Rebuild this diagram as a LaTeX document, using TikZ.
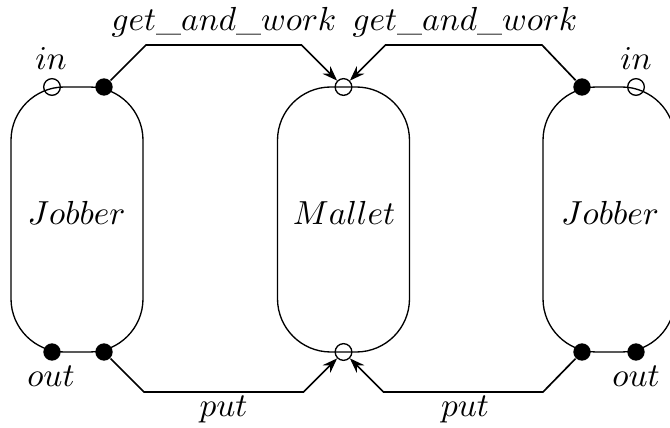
\documentclass[tikz,border=0pt]{standalone}
\usetikzlibrary{arrows.meta}
\begin{document}
\begin{tikzpicture}[x=0.3pt,y=-0.3pt,
  procbox/.style={draw, line width=0.4pt, rounded corners=16pt, minimum width=39.6pt, minimum height=79.5pt, inner sep=0pt},
  fulldot/.style={circle, fill=black, inner sep=0pt, minimum size=5.2pt},
  opendot/.style={circle, draw, line width=0.4pt, inner sep=0pt, minimum size=5pt},
  conn/.style={line width=0.5pt},
  arr/.style={conn, -{Stealth[length=4.5pt,width=3.2pt]}},
  lbl/.style={anchor=base, inner sep=0pt}]
\useasboundingbox (0,0) rectangle (670,428);
% boxes
\node[procbox] (J1) at (77,219.5) {};
\node[procbox] (M) at (343.5,219.5) {};
\node[procbox] (J2) at (609,219.5) {};
\node[lbl] (J1t) at (76.5,225) {$Jobber$};
\node[lbl] (Mt) at (344,225) {$Mallet$};
\node[lbl] (J2t) at (610,225) {$Jobber$};
% ports
\node[opendot] (J1in) at (52,87) {};
\node[fulldot] (J1g) at (104,87) {};
\node[fulldot] (J1o) at (52,352) {};
\node[fulldot] (J1p) at (104,352) {};
\node[opendot] (Mg) at (343.5,87) {};
\node[opendot] (Mp) at (343.5,352) {};
\node[fulldot] (J2g) at (582,87) {};
\node[opendot] (J2in) at (636,87) {};
\node[fulldot] (J2p) at (582,352) {};
\node[fulldot] (J2o) at (636,352) {};
% waypoints
\coordinate (a1) at (146,45);
\coordinate (a2) at (301.5,45);
\coordinate (b1) at (542,45);
\coordinate (b2) at (385.5,45);
\coordinate (c1) at (144,392);
\coordinate (c2) at (303.5,392);
\coordinate (d1) at (543,392);
\coordinate (d2) at (383.5,392);
% connectors
\draw[arr] (J1g) -- (a1) -- (a2) -- (Mg);
\draw[arr] (J2g) -- (b1) -- (b2) -- (Mg);
\draw[arr] (J1p) -- (c1) -- (c2) -- (Mp);
\draw[arr] (J2p) -- (d1) -- (d2) -- (Mp);
% labels
\node[lbl] (L1) at (224,31) {$get\_and\_work$};
\node[lbl] (L2) at (465,31) {$get\_and\_work$};
\node[lbl] (in1) at (51,70) {$in$};
\node[lbl] (in2) at (636,70) {$in$};
\node[lbl] (out1) at (51,386) {$out$};
\node[lbl] (out2) at (636,386) {$out$};
\node[lbl] (p1) at (223.5,417) {$put$};
\node[lbl] (p2) at (465,417) {$put$};
\end{tikzpicture}
\end{document}
